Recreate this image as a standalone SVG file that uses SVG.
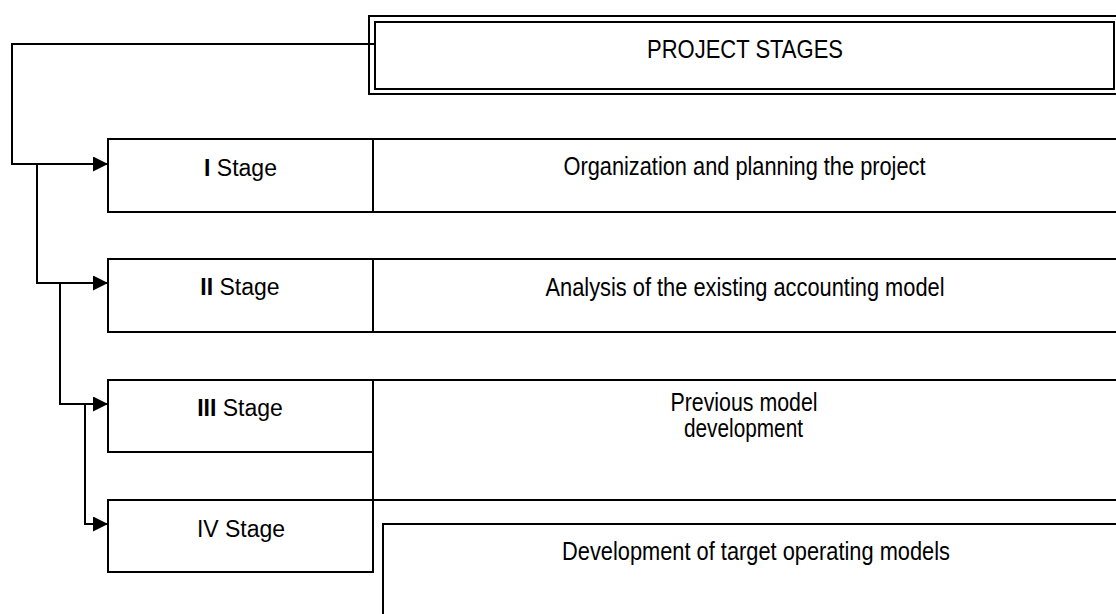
<svg xmlns="http://www.w3.org/2000/svg" width="1116" height="614" viewBox="0 0 1116 614">
  <style>
    .box { fill: #ffffff; stroke: #000000; stroke-width: 2; }
    .ln { fill: none; stroke: #000000; stroke-width: 2; }
    .conn { fill: none; stroke: #000000; stroke-width: 2; }
    text { font-family: "Liberation Sans Narrow", "Arial Narrow", "Liberation Sans", Arial, sans-serif; font-size: 25px; fill: #000000; text-anchor: middle; }
    .stg { font-family: "Liberation Sans", Arial, sans-serif; font-size: 23px; }
    .b { font-weight: bold; }
  </style>
  <defs>
    <marker id="arrow" markerUnits="userSpaceOnUse" markerWidth="16" markerHeight="16" refX="15" refY="7.5" orient="auto">
      <path d="M0,0 L15,7.5 L0,15 Z" fill="#000000"/>
    </marker>
  </defs>
  <rect width="1116" height="614" fill="#ffffff"/>

  <g id="title">
    <rect class="box" x="369" y="16" width="760" height="78"/>
    <rect class="box" x="375" y="22" width="739" height="67" stroke-width="2.5"/>
    <text x="745" y="58" textLength="196" lengthAdjust="spacingAndGlyphs">PROJECT STAGES</text>
  </g>

  <g id="stage1">
    <rect class="box" x="108" y="139" width="1020" height="73"/>
    <line class="ln" x1="373" y1="139" x2="373" y2="212"/>
    <text class="stg" x="240.5" y="176"><tspan class="b">I</tspan> Stage</text>
    <text x="744.5" y="175" textLength="362" lengthAdjust="spacingAndGlyphs">Organization and planning the project</text>
  </g>

  <g id="stage2">
    <rect class="box" x="108" y="259" width="1020" height="73"/>
    <line class="ln" x1="373" y1="259" x2="373" y2="332"/>
    <text class="stg" x="240" y="295"><tspan class="b">II</tspan> Stage</text>
    <text x="745" y="296" textLength="399" lengthAdjust="spacingAndGlyphs">Analysis of the existing accounting model</text>
  </g>

  <g id="stage3">
    <rect class="box" x="108" y="380" width="265" height="72"/>
    <rect class="box" x="373" y="380" width="755" height="120"/>
    <text class="stg" x="240" y="416"><tspan class="b">III</tspan> Stage</text>
    <text x="744" y="411" font-size="22" textLength="147" lengthAdjust="spacingAndGlyphs">Previous model</text>
    <text x="743.5" y="437" font-size="22" textLength="119" lengthAdjust="spacingAndGlyphs">development</text>
  </g>

  <g id="stage4">
    <rect class="box" x="108" y="500" width="265" height="72"/>
    <text class="stg" x="241" y="537">IV Stage</text>
  </g>

  <g id="stage4-detail">
    <rect class="box" x="383" y="524" width="745" height="100"/>
    <text x="756" y="560" textLength="388" lengthAdjust="spacingAndGlyphs">Development of target operating models</text>
  </g>

  <g id="connectors">
    <path class="conn" d="M375,44 H12 V164 H108" marker-end="url(#arrow)"/>
    <path class="conn" d="M37,164 V283 H108" marker-end="url(#arrow)"/>
    <path class="conn" d="M60,283 V404 H108" marker-end="url(#arrow)"/>
    <path class="conn" d="M85,404 V524 H108" marker-end="url(#arrow)"/>
  </g>
</svg>
